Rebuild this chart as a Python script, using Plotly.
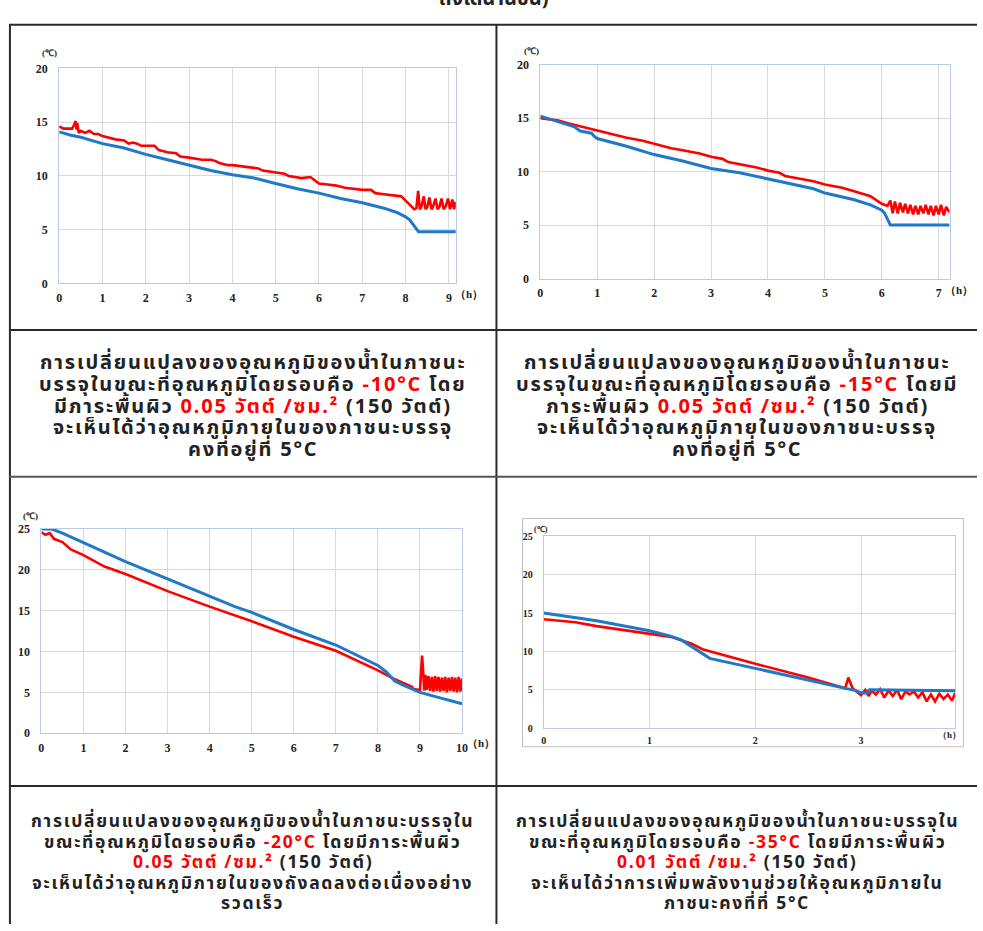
import plotly.graph_objects as go

W, H = 983, 931

# ---------------- DATA ----------------
# Chart 1: ambient -10°C
c1_blue_x = [0, 0.25, 0.5, 0.75, 1, 1.5, 2, 2.5, 3, 3.5, 4, 4.5, 5, 5.5, 6, 6.5, 7, 7.5, 7.8, 8, 8.1, 8.2, 8.3, 8.6, 9.16]
c1_blue_y = [14.1, 13.8, 13.6, 13.3, 13.0, 12.6, 12.0, 11.5, 11.0, 10.5, 10.1, 9.8, 9.3, 8.8, 8.4, 7.9, 7.5, 7.0, 6.6, 6.2, 5.9, 5.4, 4.8, 4.8, 4.8]
c1_red_x = [0, 0.1, 0.2, 0.3, 0.35, 0.38, 0.4, 0.42, 0.45, 0.5, 0.6, 0.7, 0.8, 0.9, 1.0, 1.1, 1.2, 1.3, 1.5, 1.6, 1.7, 1.8, 1.9, 2.0, 2.2, 2.3, 2.5, 2.7, 2.8, 3.0, 3.2, 3.3, 3.5, 3.6, 3.7, 3.9, 4.0, 4.2, 4.5, 4.6, 4.7, 4.9, 5.0, 5.2, 5.3, 5.5, 5.6, 5.8, 5.9, 6.0, 6.2, 6.4, 6.6, 6.8, 7.0, 7.2, 7.3, 7.5, 7.7, 7.9, 8.0, 8.1, 8.2, 8.25, 8.29, 8.33, 8.37, 8.42, 8.46, 8.5, 8.55, 8.6, 8.64, 8.69, 8.74, 8.78, 8.83, 8.88, 8.93, 8.98, 9.03, 9.08, 9.12, 9.16]
c1_red_y = [14.6, 14.4, 14.4, 14.4, 14.8, 15.1, 14.3, 14.9, 14.0, 14.2, 14.0, 14.2, 13.9, 13.9, 13.7, 13.6, 13.5, 13.4, 13.3, 13.0, 13.1, 13.0, 12.8, 12.8, 12.8, 12.4, 12.2, 12.1, 11.8, 11.7, 11.6, 11.5, 11.5, 11.4, 11.2, 11.0, 11.0, 10.9, 10.8, 10.7, 10.5, 10.4, 10.3, 10.2, 10.0, 9.9, 9.8, 9.9, 9.6, 9.3, 9.2, 9.1, 8.9, 8.8, 8.7, 8.7, 8.4, 8.3, 8.2, 8.1, 7.7, 7.3, 6.9, 7.0, 8.6, 6.9, 7.2, 8.1, 6.9, 7.1, 8.0, 6.9, 7.2, 7.9, 6.9, 7.1, 7.9, 6.9, 7.2, 7.9, 6.9, 7.8, 6.9, 7.6]

# Chart 2: ambient -15°C
c2_blue_x = [0, 0.3, 0.6, 0.7, 0.9, 0.95, 1.0, 1.5, 2.0, 2.5, 3.0, 3.5, 4.0, 4.5, 4.8, 5.0, 5.5, 5.8, 6.0, 6.05, 6.1, 6.15, 6.6, 7.19]
c2_blue_y = [15.2, 14.7, 14.2, 13.8, 13.6, 13.3, 13.1, 12.4, 11.6, 11.0, 10.3, 9.9, 9.3, 8.7, 8.4, 8.0, 7.4, 6.9, 6.4, 6.1, 5.5, 5.0, 5.0, 5.0]
c2_red_x = [0, 0.3, 0.5, 0.8, 1.0, 1.3, 1.5, 1.8, 2.0, 2.3, 2.5, 2.8, 3.0, 3.2, 3.3, 3.5, 3.8, 4.0, 4.2, 4.3, 4.5, 4.8, 5.0, 5.3, 5.5, 5.8, 6.0, 6.1, 6.15, 6.19, 6.23, 6.28, 6.32, 6.37, 6.41, 6.46, 6.5, 6.55, 6.59, 6.64, 6.68, 6.73, 6.77, 6.82, 6.86, 6.91, 6.95, 7.0, 7.04, 7.09, 7.13, 7.19]
c2_red_y = [15.0, 14.8, 14.5, 14.1, 13.9, 13.5, 13.2, 12.9, 12.6, 12.2, 12.0, 11.7, 11.4, 11.2, 10.9, 10.7, 10.4, 10.1, 9.9, 9.6, 9.4, 9.1, 8.8, 8.5, 8.2, 7.7, 7.0, 6.8, 7.3, 6.1, 7.2, 6.1, 7.1, 6.2, 7.0, 6.1, 6.9, 6.0, 6.8, 6.0, 6.8, 6.1, 6.9, 6.0, 6.8, 5.9, 6.8, 6.0, 6.9, 5.9, 6.7, 6.2]

# Chart 3: ambient -20°C
c3_blue_x = [0, 0.25, 0.5, 1, 2, 3, 4, 4.6, 5, 6, 7, 7.5, 8, 8.2, 8.4, 8.6, 9, 9.5, 10]
c3_blue_y = [25.0, 25.0, 24.5, 23.3, 21.0, 18.9, 16.8, 15.5, 14.8, 12.7, 10.8, 9.6, 8.3, 7.5, 6.4, 5.9, 5.0, 4.3, 3.6]
c3_red_x = [0, 0.1, 0.2, 0.3, 0.5, 0.7, 1, 1.5, 2, 3, 4, 5, 6, 7, 8, 8.4, 8.8, 8.85, 9.0, 9.05, 9.08, 9.1, 9.13, 9.16, 9.2, 9.24, 9.28, 9.32, 9.36, 9.4, 9.44, 9.48, 9.52, 9.56, 9.6, 9.64, 9.68, 9.72, 9.76, 9.8, 9.84, 9.88, 9.92, 9.96, 10.0]
c3_red_y = [24.6, 24.3, 24.5, 23.8, 23.4, 22.5, 21.8, 20.4, 19.5, 17.4, 15.5, 13.7, 11.8, 10.1, 7.7, 6.6, 5.7, 5.4, 5.3, 9.5, 7.2, 5.2, 7.1, 5.3, 7.0, 5.2, 6.9, 5.1, 7.0, 5.2, 6.9, 5.1, 6.8, 5.2, 6.9, 5.0, 6.8, 5.2, 6.9, 5.1, 6.8, 5.0, 6.9, 5.1, 6.7]

# Chart 4: ambient -35°C
c4_blue_x = [0, 0.5, 1, 1.2, 1.3, 1.45, 1.57, 2, 2.5, 2.95, 3.0, 3.05, 3.08, 3.5, 3.89]
c4_blue_y = [15.0, 14.0, 12.7, 12.0, 11.5, 10.2, 9.1, 7.8, 6.3, 4.9, 4.6, 4.6, 5.0, 4.9, 4.9]
c4_red_x = [0, 0.3, 0.5, 0.7, 1.0, 1.2, 1.4, 1.5, 2.0, 2.5, 2.85, 2.88, 2.92, 3.0, 3.04, 3.07, 3.1, 3.14, 3.18, 3.22, 3.26, 3.3, 3.34, 3.38, 3.42, 3.46, 3.5, 3.54, 3.58, 3.62, 3.66, 3.7, 3.74, 3.78, 3.82, 3.86, 3.89]
c4_red_y = [14.2, 13.8, 13.3, 12.9, 12.3, 11.9, 11.0, 10.3, 8.4, 6.6, 5.2, 6.6, 5.2, 4.3, 5.0, 4.2, 4.9, 4.4, 5.1, 4.0, 4.9, 4.2, 5.0, 3.8, 4.8, 4.4, 4.8, 4.0, 4.7, 3.5, 4.4, 3.5, 4.5, 3.8, 4.4, 3.6, 4.6]

c1_xticks = [0, 1, 2, 3, 4, 5, 6, 7, 8, 9]
c2_xticks = [0, 1, 2, 3, 4, 5, 6, 7]
c3_xticks = [0, 1, 2, 3, 4, 5, 6, 7, 8, 9, 10]
c4_xticks = [0, 1, 2, 3]
yticks_20 = [0, 5, 10, 15, 20]
yticks_25 = [0, 5, 10, 15, 20, 25]

texts_tl = ["การเปลี่ยนแปลงของอุณหภูมิของน้ำในภาชนะ",
            "บรรจุในขณะที่อุณหภูมิโดยรอบคือ <span style='color:#ff0000'>-10°C</span> โดย",
            "มีภาระพื้นผิว <span style='color:#ff0000'>0.05 วัตต์ /ซม.²</span> (150 วัตต์)",
            "จะเห็นได้ว่าอุณหภูมิภายในของภาชนะบรรจุ",
            "คงที่อยู่ที่ 5°C"]
texts_tr = ["การเปลี่ยนแปลงของอุณหภูมิของน้ำในภาชนะ",
            "บรรจุในขณะที่อุณหภูมิโดยรอบคือ <span style='color:#ff0000'>-15°C</span> โดยมี",
            "ภาระพื้นผิว <span style='color:#ff0000'>0.05 วัตต์ /ซม.²</span> (150 วัตต์)",
            "จะเห็นได้ว่าอุณหภูมิภายในของภาชนะบรรจุ",
            "คงที่อยู่ที่ 5°C"]
texts_bl = ["การเปลี่ยนแปลงของอุณหภูมิของน้ำในภาชนะบรรจุใน",
            "ขณะที่อุณหภูมิโดยรอบคือ <span style='color:#ff0000'>-20°C</span> โดยมีภาระพื้นผิว",
            "<span style='color:#ff0000'>0.05 วัตต์ /ซม.²</span> (150 วัตต์)",
            "จะเห็นได้ว่าอุณหภูมิภายในของถังลดลงต่อเนื่องอย่าง",
            "รวดเร็ว"]
texts_br = ["การเปลี่ยนแปลงของอุณหภูมิของน้ำในภาชนะบรรจุใน",
            "ขณะที่อุณหภูมิโดยรอบคือ <span style='color:#ff0000'>-35°C</span> โดยมีภาระพื้นผิว",
            "<span style='color:#ff0000'>0.01 วัตต์ /ซม.²</span> (150 วัตต์)",
            "จะเห็นได้ว่าการเพิ่มพลังงานช่วยให้อุณหภูมิภายใน",
            "ภาชนะคงที่ที่ 5°C"]
top_title = "ถึงได้นานขึ้น)"

# ---------------- LAYOUT HELPERS ----------------
def px(x):
    return x / W

def py(y):
    return 1 - y / H

BLUE = "#1f78c8"
RED = "#ff0000"
GRID = "#d9d9d9"
FRAME = "#b7cbe6"
SERIF = "Liberation Serif"
THAI = "Tahoma, Noto Sans Thai, Noto Sans, sans-serif"

fig = go.Figure()

charts = [
    ("", c1_blue_x, c1_blue_y, c1_red_x, c1_red_y, (56.7, 457), (62.3, 280.7), 9.16, 20, c1_xticks, yticks_20, 12),
    ("2", c2_blue_x, c2_blue_y, c2_red_x, c2_red_y, (542.3, 955.3), (58.7, 275.7), 7.19, 20, c2_xticks, yticks_20, 12),
    ("3", c3_blue_x, c3_blue_y, c3_red_x, c3_red_y, (38.7, 463.3), (530, 737.3), 10, 25, c3_xticks, yticks_25, 12),
    ("4", c4_blue_x, c4_blue_y, c4_red_x, c4_red_y, (545.7, 961), (537.3, 732.3), 3.89, 25, c4_xticks, yticks_25, 10),
]

layout_axes = {}
for suf, bx, by, rx, ry, xd, yd, xmax, ymax, xt, yt, fs in charts:
    xa = "x" + suf
    ya = "y" + suf
    fig.add_trace(go.Scatter(x=rx, y=ry, mode="lines", line=dict(color=RED, width=2.6),
                             xaxis=xa, yaxis=ya, showlegend=False, hoverinfo="skip"))
    fig.add_trace(go.Scatter(x=bx, y=by, mode="lines", line=dict(color=BLUE, width=3),
                             xaxis=xa, yaxis=ya, showlegend=False, hoverinfo="skip"))
    tf = dict(family=SERIF, size=fs, color="#222222", weight="bold")
    layout_axes["xaxis" + suf] = dict(
        domain=[px(xd[0]), px(xd[1])], range=[0, xmax], anchor=ya,
        tickvals=xt, ticktext=[str(v) for v in xt], showgrid=True, gridcolor=GRID, gridwidth=1,
        zeroline=False, showline=True, linecolor=FRAME, linewidth=1, mirror=True,
        ticks="", tickfont=tf, ticklabelstandoff=3, fixedrange=True)
    layout_axes["yaxis" + suf] = dict(
        domain=[py(yd[1]), py(yd[0])], range=[0, ymax], anchor=xa,
        tickvals=yt, ticktext=[str(v) for v in yt], showgrid=True, gridcolor=GRID, gridwidth=1,
        zeroline=False, showline=True, linecolor=FRAME, linewidth=1, mirror=True,
        ticks="", tickfont=tf, ticklabelstandoff=8, fixedrange=True)

fig.update_layout(**layout_axes)

# ---------------- TABLE LINES ----------------
LINE = dict(color="#2a2a2a", width=2)
shapes = [
    dict(type="line", xref="paper", yref="paper", x0=px(6), x1=1, y0=py(18), y1=py(18), line=LINE),
    dict(type="line", xref="paper", yref="paper", x0=px(7), x1=px(7), y0=py(18), y1=0, line=LINE),
    dict(type="line", xref="paper", yref="paper", x0=px(498), x1=px(498), y0=py(18), y1=0, line=LINE),
    dict(type="line", xref="paper", yref="paper", x0=px(6), x1=1, y0=py(328), y1=py(328), line=LINE),
    dict(type="line", xref="paper", yref="paper", x0=px(6), x1=1, y0=py(477), y1=py(477), line=dict(color="#555555", width=2)),
    dict(type="line", xref="paper", yref="paper", x0=px(6), x1=1, y0=py(791), y1=py(791), line=LINE),
    dict(type="rect", xref="paper", yref="paper", x0=px(524.3), x1=px(969.3), y0=py(751), y1=py(519.3),
         line=dict(color="#bfbfbf", width=1)),
]
fig.update_layout(shapes=shapes)

# ---------------- ANNOTATIONS ----------------
ann = []
def add_text(x, y, text, size, family, color="#222222", bold=True, xanchor="center", spacing=None):
    if spacing is not None:
        text = "<span style='letter-spacing:%spx'>%s</span>" % (spacing, text)
    ann.append(dict(x=px(x), y=py(y), xref="paper", yref="paper", text=text, showarrow=False,
                    xanchor=xanchor, yanchor="middle",
                    font=dict(size=size, family=family, color=color, weight="bold" if bold else "normal")))

add_text(47, 47, "(℃)", 9, SERIF)
add_text(533, 45, "(℃)", 9, SERIF)
add_text(28, 517, "(℃)", 9, SERIF)
add_text(543, 530, "(℃)", 8, SERIF)
add_text(470, 292, "（h）", 11, SERIF)
add_text(965, 288, "（h）", 11, SERIF)
add_text(482, 748, "（h）", 11, SERIF)
add_text(955, 739, "（h）", 9, SERIF)

for i, t in enumerate(texts_tl):
    add_text(252, 361 + i * 22.3, t, 20, THAI, spacing=1.8)
for i, t in enumerate(texts_tr):
    add_text(741, 361 + i * 22.3, t, 20, THAI, spacing=1.8)
for i, t in enumerate(texts_bl):
    add_text(252, 827 + i * 20.8, t, 17.5, THAI, spacing=1.7)
for i, t in enumerate(texts_br):
    add_text(741, 827 + i * 20.8, t, 17.5, THAI, spacing=1.7)

ann.append(dict(x=px(495), y=py(9), xref="paper", yref="paper", text=top_title, showarrow=False,
                xanchor="center", yanchor="bottom",
                font=dict(size=20, family=THAI, color="#222222", weight="bold")))

fig.update_layout(annotations=ann)

fig.update_layout(width=W, height=H, margin=dict(l=0, r=0, t=0, b=0),
                  paper_bgcolor="white", plot_bgcolor="white", showlegend=False)

fig.write_html("out.html", config={"displayModeBar": False},
               post_script="document.body.style.margin='0';document.body.style.overflow='hidden';")
